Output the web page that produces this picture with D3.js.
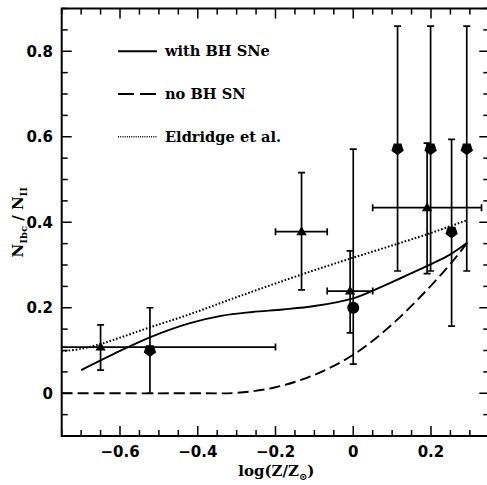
<!DOCTYPE html>
<html><head><meta charset="utf-8">
<script src="https://cdn.jsdelivr.net/npm/d3@7"></script>
<style>body{margin:0;background:#fff}</style>
</head><body>
<svg id="c" width="487" height="485"></svg>
<script>
// ---- data ----
const xTicks = [-0.6, -0.4, -0.2, 0, 0.2];
const xTickLabels = ["\u22120.6", "\u22120.4", "\u22120.2", "0", "0.2"];
const yTicks = [0, 0.2, 0.4, 0.6, 0.8];
const yTickLabels = ["0", "0.2", "0.4", "0.6", "0.8"];

const withBH_x = [-0.70, -0.60, -0.52, -0.42, -0.34, -0.26, -0.18, -0.10, 0.0, 0.05, 0.10, 0.15, 0.20, 0.25, 0.293];
const withBH_y = [0.054, 0.099, 0.132, 0.164, 0.181, 0.19, 0.196, 0.204, 0.222, 0.240, 0.260, 0.281, 0.302, 0.325, 0.352];

const noBH_x = [-0.75, -0.40, -0.30, -0.20, -0.10, 0.0, 0.086, 0.171, 0.257, 0.293];
const noBH_y = [0.0, 0.0, 0.001, 0.014, 0.043, 0.09, 0.15, 0.224, 0.31, 0.352];

const eldridge_x = [-0.75, -0.70, -0.65, -0.60, -0.53, -0.42, -0.29, -0.086, 0.197, 0.293];
const eldridge_y = [0.098, 0.104, 0.115, 0.13, 0.152, 0.185, 0.228, 0.292, 0.374, 0.405];

// observations: triangles
const triX   = [-0.65, -0.133, -0.008, 0.19];
const triY   = [0.108, 0.378, 0.239, 0.434];
const triXlo = [-0.80, -0.20, -0.067, 0.05];
const triXhi = [-0.20, -0.067, 0.05, 0.33];
const triYlo = [0.054, 0.242, 0.141, 0.28];
const triYhi = [0.16, 0.516, 0.333, 0.585];

// pentagons
const penX   = [-0.523, 0.114, 0.199, 0.292, 0.253];
const penY   = [0.099, 0.571, 0.571, 0.571, 0.376];
const penYlo = [0.0, 0.286, 0.286, 0.286, 0.157];
const penYhi = [0.2, 0.859, 0.859, 0.859, 0.594];

// circle
const cirX   = [0.0];
const cirY   = [0.2];
const cirYlo = [0.068];
const cirYhi = [0.571];

const legendLabels = ["with BH SNe", "no BH SN", "Eldridge et al."];
const legendY = [0.8, 0.7, 0.6];

// ---- chart ----
const svg = d3.select("#c");
const x = d3.scaleLinear().domain([-0.75, 0.35]).range([61.7, 489.3]);
const y = d3.scaleLinear().domain([-0.1, 0.9]).range([436, 8.5]);

svg.append("defs").append("clipPath").attr("id", "clip")
  .append("rect").attr("x", x(-0.75)).attr("y", y(0.9))
  .attr("width", x(0.35) - x(-0.75)).attr("height", y(-0.1) - y(0.9));

const plot = svg.append("g").attr("clip-path", "url(#clip)");

// curves
const line = d3.line().x(d => x(d[0])).y(d => y(d[1])).curve(d3.curveCatmullRom.alpha(0.5));
const zip = (a, b) => a.map((v, i) => [v, b[i]]);

plot.append("path").attr("d", line(zip(eldridge_x, eldridge_y)))
  .attr("fill", "none").attr("stroke", "#000").attr("stroke-width", 2)
  .attr("stroke-dasharray", "1.6,1.9");
plot.append("path").attr("d", line(zip(noBH_x, noBH_y)))
  .attr("fill", "none").attr("stroke", "#000").attr("stroke-width", 1.9)
  .attr("stroke-dasharray", "11,5");
plot.append("path").attr("d", line(zip(withBH_x, withBH_y)))
  .attr("fill", "none").attr("stroke", "#000").attr("stroke-width", 1.9);

// error bars
const cap = 3.5;
function vbar(xv, lo, hi) {
  plot.append("line").attr("x1", x(xv)).attr("x2", x(xv)).attr("y1", y(lo)).attr("y2", y(hi))
    .attr("stroke", "#000").attr("stroke-width", 1.7);
  [lo, hi].forEach(v => plot.append("line").attr("x1", x(xv) - cap).attr("x2", x(xv) + cap)
    .attr("y1", y(v)).attr("y2", y(v)).attr("stroke", "#000").attr("stroke-width", 1.7));
}
function hbar(yv, lo, hi) {
  plot.append("line").attr("x1", x(lo)).attr("x2", x(hi)).attr("y1", y(yv)).attr("y2", y(yv))
    .attr("stroke", "#000").attr("stroke-width", 1.7);
  [lo, hi].forEach(v => plot.append("line").attr("x1", x(v)).attr("x2", x(v))
    .attr("y1", y(yv) - cap).attr("y2", y(yv) + cap).attr("stroke", "#000").attr("stroke-width", 1.7));
}
triX.forEach((v, i) => { vbar(v, triYlo[i], triYhi[i]); hbar(triY[i], triXlo[i], triXhi[i]); });
penX.forEach((v, i) => vbar(v, penYlo[i], penYhi[i]));
cirX.forEach((v, i) => vbar(v, cirYlo[i], cirYhi[i]));

// markers
const tri = d3.symbol().type(d3.symbolTriangle).size(46);
triX.forEach((v, i) => plot.append("path").attr("d", tri())
  .attr("transform", `translate(${x(v)},${y(triY[i]) + 0.5})`).attr("fill", "#000"));
function pentagon(r) {
  const pts = d3.range(5).map(k => {
    const a = Math.PI / 2 + k * 2 * Math.PI / 5; // vertex at bottom
    return [r * Math.cos(a), r * Math.sin(a)];
  });
  return "M" + pts.map(p => p.join(",")).join("L") + "Z";
}
penX.forEach((v, i) => plot.append("path").attr("d", pentagon(6.5))
  .attr("transform", `translate(${x(v)},${y(penY[i]) - 0.5})`).attr("fill", "#000"));
cirX.forEach((v, i) => plot.append("circle").attr("cx", x(v)).attr("cy", y(cirY[i]))
  .attr("r", 6).attr("fill", "#000"));

// legend
const lx0 = x(-0.605), lx1 = x(-0.505);
const lstyles = [null, "16,6", "1,1.2"];
legendLabels.forEach((t, i) => {
  const ly = y(legendY[i]);
  const l = svg.append("line").attr("x1", lx0).attr("x2", lx1).attr("y1", ly).attr("y2", ly)
    .attr("stroke", "#000").attr("stroke-width", i === 2 ? 1.4 : 1.9);
  if (lstyles[i]) l.attr("stroke-dasharray", lstyles[i]);
  svg.append("text").attr("x", 165).attr("y", ly + 5)
    .attr("font-family", "DejaVu Serif").attr("font-weight", "bold").attr("font-size", 14.6)
    .text(t);
});

// ticks on all four sides
const xMinor = d3.range(-15, 8).map(k => k * 0.05);
const yMinor = d3.range(-2, 19).map(k => k * 0.05);
const isMajor = v => Math.abs(v / 0.2 - Math.round(v / 0.2)) < 1e-6;
const tk = svg.append("g").attr("stroke", "#000").attr("stroke-width", 1.5);
const X0 = x(-0.75), X1 = x(0.35), Y0 = y(-0.1), Y1 = y(0.9);
xMinor.forEach(v => {
  const L = isMajor(v) ? 10 : 6;
  tk.append("line").attr("x1", x(v)).attr("x2", x(v)).attr("y1", Y0).attr("y2", Y0 - L);
  tk.append("line").attr("x1", x(v)).attr("x2", x(v)).attr("y1", Y1).attr("y2", Y1 + L);
});
yMinor.forEach(v => {
  const L = isMajor(v) ? 10 : 6;
  tk.append("line").attr("x1", X0).attr("x2", X0 + L).attr("y1", y(v)).attr("y2", y(v));
  tk.append("line").attr("x1", X1).attr("x2", X1 - L).attr("y1", y(v)).attr("y2", y(v));
});
svg.append("rect").attr("x", X0).attr("y", Y1).attr("width", X1 - X0).attr("height", Y0 - Y1)
  .attr("fill", "none").attr("stroke", "#000").attr("stroke-width", 2);

// tick labels
xTicks.forEach((v, i) => svg.append("text").attr("x", x(v)).attr("y", 457)
  .attr("text-anchor", "middle").attr("font-family", "DejaVu Sans").attr("font-weight", "bold")
  .attr("font-size", 15).text(xTickLabels[i]));
yTicks.forEach((v, i) => svg.append("text").attr("x", 53).attr("y", y(v) + 5.5)
  .attr("text-anchor", "end").attr("font-family", "DejaVu Sans").attr("font-weight", "bold")
  .attr("font-size", 15).text(yTickLabels[i]));

// axis titles
const xt = svg.append("text").attr("x", (X0 + 487) / 2 + 2).attr("y", 476)
  .attr("text-anchor", "middle").attr("font-family", "DejaVu Serif").attr("font-weight", "bold")
  .attr("font-size", 15);
xt.append("tspan").text("log(Z/Z");
xt.append("tspan").attr("dy", 4).attr("font-size", 10).text("\u2299");
xt.append("tspan").attr("dy", -4).text(")");

const yt = svg.append("text").attr("transform", `translate(23,${(Y0 + Y1) / 2}) rotate(-90)`)
  .attr("text-anchor", "middle").attr("font-family", "DejaVu Serif").attr("font-weight", "bold")
  .attr("font-size", 15);
yt.append("tspan").text("N");
yt.append("tspan").attr("dy", 4).attr("font-size", 10).text("Ibc");
yt.append("tspan").attr("dy", -4).text(" / N");
yt.append("tspan").attr("dy", 4).attr("font-size", 10).text("II");
</script>
</body></html>
